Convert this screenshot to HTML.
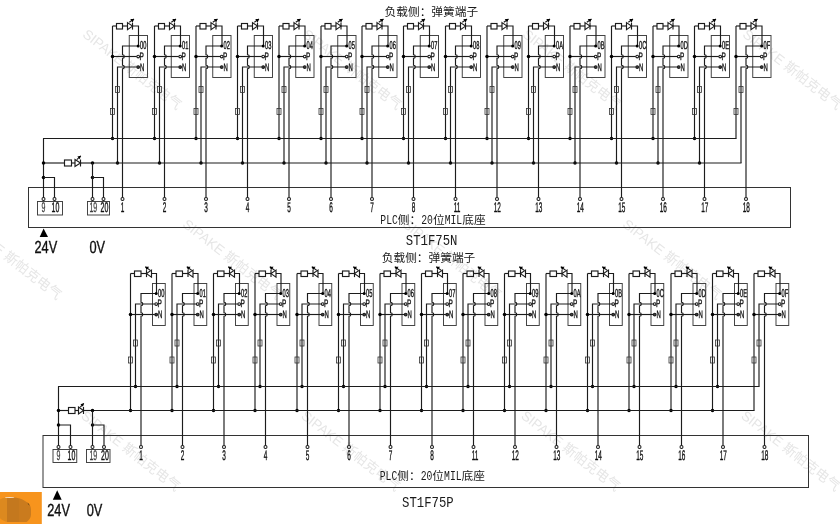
<!DOCTYPE html>
<html lang="zh-CN">
<head>
<meta charset="utf-8">
<title>ST1F75N / ST1F75P</title>
<style>
html,body{margin:0;padding:0;background:#fff;}
body{width:840px;height:524px;overflow:hidden;position:relative;font-family:"Liberation Sans","Noto Sans CJK SC",sans-serif;}
svg{position:absolute;left:0;top:0;display:block;filter:grayscale(1);}
.w{fill:none;stroke:#1c1c1c;stroke-width:1.15;stroke-linecap:butt;stroke-linejoin:miter;}
.o{fill:#fff;stroke:#1c1c1c;stroke-width:1.05;}
.n{fill:#444;}
.r{fill:none;stroke:#333;stroke-width:1;}
.b{fill:none;stroke:#3c3c3c;stroke-width:.95;}
.d{fill:#000;stroke:none;}
.z{fill:none;stroke:#333;stroke-width:.8;}
.s{stroke-width:.55;}
.f{fill:#000;stroke:none;}
.t{font-family:"Liberation Sans",sans-serif;fill:#111;stroke:#111;stroke-width:.4;text-rendering:geometricPrecision;}
.g{fill:#3c3c3c;stroke:#3c3c3c;stroke-width:.25;}
.c{font-family:"Liberation Mono","Noto Sans CJK SC",monospace;fill:#1a1a1a;}
.m{font-family:"Liberation Mono",monospace;}
.wm{font-family:"Liberation Sans","Noto Sans CJK SC",sans-serif;font-size:13.7px;fill:#e6e6e6;}
.badge{position:absolute;left:0;top:492px;filter:none;}
</style>
</head>
<body>
<svg width="840" height="524" viewBox="0 0 840 524">
<g>
<text class="wm" transform="translate(88 28) rotate(38)" x="0" y="10">SIPAKE 斯帕克电气</text>
<text class="wm" transform="translate(308 28) rotate(38)" x="0" y="10">SIPAKE 斯帕克电气</text>
<text class="wm" transform="translate(528 28) rotate(38)" x="0" y="10">SIPAKE 斯帕克电气</text>
<text class="wm" transform="translate(748 28) rotate(38)" x="0" y="10">SIPAKE 斯帕克电气</text>
<text class="wm" transform="translate(-32 218) rotate(38)" x="0" y="10">SIPAKE 斯帕克电气</text>
<text class="wm" transform="translate(188 218) rotate(38)" x="0" y="10">SIPAKE 斯帕克电气</text>
<text class="wm" transform="translate(408 218) rotate(38)" x="0" y="10">SIPAKE 斯帕克电气</text>
<text class="wm" transform="translate(628 218) rotate(38)" x="0" y="10">SIPAKE 斯帕克电气</text>
<text class="wm" transform="translate(86.5 409.5) rotate(38)" x="0" y="10">SIPAKE 斯帕克电气</text>
<text class="wm" transform="translate(306.5 409.5) rotate(38)" x="0" y="10">SIPAKE 斯帕克电气</text>
<text class="wm" transform="translate(526.5 409.5) rotate(38)" x="0" y="10">SIPAKE 斯帕克电气</text>
<text class="wm" transform="translate(746.5 409.5) rotate(38)" x="0" y="10">SIPAKE 斯帕克电气</text>
</g>
<g id="dN">
<rect class="r" x="28.5" y="187.5" width="762" height="40"/>
<rect class="b" x="129.25" y="35.5" width="18.25" height="42"/>
<path class="w" d="M112.5 26L116.5 26"/>
<rect class="w" x="116.5" y="23.5" width="6" height="5.5"/>
<path class="w" d="M122.5 26L127.5 26"/>
<path class="w" d="M127.5 22.6L132.5 26.1L127.5 29.6Z"/>
<path class="w" d="M132.5 22.6L132.5 29.6"/>
<path class="w" d="M129.3 22.3L134 19"/>
<path class="f" d="M134 19L132.67 22.5L130.26 19.06Z"/>
<path class="w" d="M132.5 26L138.5 26L138.5 46"/>
<path class="w" d="M138.5 46L122.5 46L122.5 54.7A1.8 1.8 0 0 1 122.5 58.3L122.5 65.2A1.8 1.8 0 0 1 122.5 68.8L122.5 197.6"/>
<path class="w" d="M112.5 26L112.5 138.5"/>
<path class="w" d="M112.5 56.5L136.9 56.5"/>
<circle class="d" cx="112.5" cy="56.5" r="1.75"/>
<path class="w" d="M136.9 67L117.5 67L117.5 163"/>
<circle class="d" cx="112.5" cy="138.5" r="1.75"/>
<circle class="d" cx="117.5" cy="163" r="1.75"/>
<rect class="z" x="115.5" y="86.5" width="4" height="6"/>
<rect class="z" x="110.5" y="108.5" width="4" height="6"/>
<circle class="d" cx="138.2" cy="46" r="1.5"/>
<circle class="o" cx="138.2" cy="56.5" r="1.35"/>
<circle class="o n" cx="138.2" cy="67" r="1.35"/>
<text class="t s" transform="translate(140 49) scale(0.5 1)" font-size="11.4" text-anchor="start">00</text>
<text class="t s" transform="translate(139.6 59.7) scale(0.6 1)" font-size="10.8" text-anchor="start">P</text>
<text class="t s" transform="translate(140 70.8) scale(0.55 1)" font-size="10.8" text-anchor="start">N</text>
<circle class="o" cx="122.5" cy="199" r="1.5"/>
<text class="t" transform="translate(122.5 212.1) scale(0.46 1)" font-size="14" text-anchor="middle">1</text>
<rect class="b" x="171.25" y="35.5" width="18.25" height="42"/>
<path class="w" d="M154.5 26L158.5 26"/>
<rect class="w" x="158.5" y="23.5" width="6" height="5.5"/>
<path class="w" d="M164.5 26L169.5 26"/>
<path class="w" d="M169.5 22.6L174.5 26.1L169.5 29.6Z"/>
<path class="w" d="M174.5 22.6L174.5 29.6"/>
<path class="w" d="M171.3 22.3L176 19"/>
<path class="f" d="M176 19L174.67 22.5L172.26 19.06Z"/>
<path class="w" d="M174.5 26L180.5 26L180.5 46"/>
<path class="w" d="M180.5 46L164.5 46L164.5 54.7A1.8 1.8 0 0 1 164.5 58.3L164.5 65.2A1.8 1.8 0 0 1 164.5 68.8L164.5 197.6"/>
<path class="w" d="M154.5 26L154.5 138.5"/>
<path class="w" d="M154.5 56.5L178.9 56.5"/>
<circle class="d" cx="154.5" cy="56.5" r="1.75"/>
<path class="w" d="M178.9 67L159.5 67L159.5 163"/>
<circle class="d" cx="154.5" cy="138.5" r="1.75"/>
<circle class="d" cx="159.5" cy="163" r="1.75"/>
<rect class="z" x="157.5" y="86.5" width="4" height="6"/>
<rect class="z" x="152.5" y="108.5" width="4" height="6"/>
<circle class="d" cx="180.2" cy="46" r="1.5"/>
<circle class="o" cx="180.2" cy="56.5" r="1.35"/>
<circle class="o n" cx="180.2" cy="67" r="1.35"/>
<text class="t s" transform="translate(182 49) scale(0.5 1)" font-size="11.4" text-anchor="start">01</text>
<text class="t s" transform="translate(181.6 59.7) scale(0.6 1)" font-size="10.8" text-anchor="start">P</text>
<text class="t s" transform="translate(182 70.8) scale(0.55 1)" font-size="10.8" text-anchor="start">N</text>
<circle class="o" cx="164.5" cy="199" r="1.5"/>
<text class="t" transform="translate(164.5 212.1) scale(0.46 1)" font-size="14" text-anchor="middle">2</text>
<rect class="b" x="212.75" y="35.5" width="18.25" height="42"/>
<path class="w" d="M196 26L200 26"/>
<rect class="w" x="200" y="23.5" width="6" height="5.5"/>
<path class="w" d="M206 26L211 26"/>
<path class="w" d="M211 22.6L216 26.1L211 29.6Z"/>
<path class="w" d="M216 22.6L216 29.6"/>
<path class="w" d="M212.8 22.3L217.5 19"/>
<path class="f" d="M217.5 19L216.17 22.5L213.76 19.06Z"/>
<path class="w" d="M216 26L222 26L222 46"/>
<path class="w" d="M222 46L206 46L206 54.7A1.8 1.8 0 0 1 206 58.3L206 65.2A1.8 1.8 0 0 1 206 68.8L206 197.6"/>
<path class="w" d="M196 26L196 138.5"/>
<path class="w" d="M196 56.5L220.4 56.5"/>
<circle class="d" cx="196" cy="56.5" r="1.75"/>
<path class="w" d="M220.4 67L201 67L201 163"/>
<circle class="d" cx="196" cy="138.5" r="1.75"/>
<circle class="d" cx="201" cy="163" r="1.75"/>
<rect class="z" x="199" y="86.5" width="4" height="6"/>
<rect class="z" x="194" y="108.5" width="4" height="6"/>
<circle class="d" cx="221.7" cy="46" r="1.5"/>
<circle class="o" cx="221.7" cy="56.5" r="1.35"/>
<circle class="o n" cx="221.7" cy="67" r="1.35"/>
<text class="t s" transform="translate(223.5 49) scale(0.5 1)" font-size="11.4" text-anchor="start">02</text>
<text class="t s" transform="translate(223.1 59.7) scale(0.6 1)" font-size="10.8" text-anchor="start">P</text>
<text class="t s" transform="translate(223.5 70.8) scale(0.55 1)" font-size="10.8" text-anchor="start">N</text>
<circle class="o" cx="206" cy="199" r="1.5"/>
<text class="t" transform="translate(206 212.1) scale(0.46 1)" font-size="14" text-anchor="middle">3</text>
<rect class="b" x="254.25" y="35.5" width="18.25" height="42"/>
<path class="w" d="M237.5 26L241.5 26"/>
<rect class="w" x="241.5" y="23.5" width="6" height="5.5"/>
<path class="w" d="M247.5 26L252.5 26"/>
<path class="w" d="M252.5 22.6L257.5 26.1L252.5 29.6Z"/>
<path class="w" d="M257.5 22.6L257.5 29.6"/>
<path class="w" d="M254.3 22.3L259 19"/>
<path class="f" d="M259 19L257.67 22.5L255.26 19.06Z"/>
<path class="w" d="M257.5 26L263.5 26L263.5 46"/>
<path class="w" d="M263.5 46L247.5 46L247.5 54.7A1.8 1.8 0 0 1 247.5 58.3L247.5 65.2A1.8 1.8 0 0 1 247.5 68.8L247.5 197.6"/>
<path class="w" d="M237.5 26L237.5 138.5"/>
<path class="w" d="M237.5 56.5L261.9 56.5"/>
<circle class="d" cx="237.5" cy="56.5" r="1.75"/>
<path class="w" d="M261.9 67L242.5 67L242.5 163"/>
<circle class="d" cx="237.5" cy="138.5" r="1.75"/>
<circle class="d" cx="242.5" cy="163" r="1.75"/>
<rect class="z" x="240.5" y="86.5" width="4" height="6"/>
<rect class="z" x="235.5" y="108.5" width="4" height="6"/>
<circle class="d" cx="263.2" cy="46" r="1.5"/>
<circle class="o" cx="263.2" cy="56.5" r="1.35"/>
<circle class="o n" cx="263.2" cy="67" r="1.35"/>
<text class="t s" transform="translate(265 49) scale(0.5 1)" font-size="11.4" text-anchor="start">03</text>
<text class="t s" transform="translate(264.6 59.7) scale(0.6 1)" font-size="10.8" text-anchor="start">P</text>
<text class="t s" transform="translate(265 70.8) scale(0.55 1)" font-size="10.8" text-anchor="start">N</text>
<circle class="o" cx="247.5" cy="199" r="1.5"/>
<text class="t" transform="translate(247.5 212.1) scale(0.46 1)" font-size="14" text-anchor="middle">4</text>
<rect class="b" x="295.75" y="35.5" width="18.25" height="42"/>
<path class="w" d="M279 26L283 26"/>
<rect class="w" x="283" y="23.5" width="6" height="5.5"/>
<path class="w" d="M289 26L294 26"/>
<path class="w" d="M294 22.6L299 26.1L294 29.6Z"/>
<path class="w" d="M299 22.6L299 29.6"/>
<path class="w" d="M295.8 22.3L300.5 19"/>
<path class="f" d="M300.5 19L299.17 22.5L296.76 19.06Z"/>
<path class="w" d="M299 26L305 26L305 46"/>
<path class="w" d="M305 46L289 46L289 54.7A1.8 1.8 0 0 1 289 58.3L289 65.2A1.8 1.8 0 0 1 289 68.8L289 197.6"/>
<path class="w" d="M279 26L279 138.5"/>
<path class="w" d="M279 56.5L303.4 56.5"/>
<circle class="d" cx="279" cy="56.5" r="1.75"/>
<path class="w" d="M303.4 67L284 67L284 163"/>
<circle class="d" cx="279" cy="138.5" r="1.75"/>
<circle class="d" cx="284" cy="163" r="1.75"/>
<rect class="z" x="282" y="86.5" width="4" height="6"/>
<rect class="z" x="277" y="108.5" width="4" height="6"/>
<circle class="d" cx="304.7" cy="46" r="1.5"/>
<circle class="o" cx="304.7" cy="56.5" r="1.35"/>
<circle class="o n" cx="304.7" cy="67" r="1.35"/>
<text class="t s" transform="translate(306.5 49) scale(0.5 1)" font-size="11.4" text-anchor="start">04</text>
<text class="t s" transform="translate(306.1 59.7) scale(0.6 1)" font-size="10.8" text-anchor="start">P</text>
<text class="t s" transform="translate(306.5 70.8) scale(0.55 1)" font-size="10.8" text-anchor="start">N</text>
<circle class="o" cx="289" cy="199" r="1.5"/>
<text class="t" transform="translate(289 212.1) scale(0.46 1)" font-size="14" text-anchor="middle">5</text>
<rect class="b" x="337.75" y="35.5" width="18.25" height="42"/>
<path class="w" d="M321 26L325 26"/>
<rect class="w" x="325" y="23.5" width="6" height="5.5"/>
<path class="w" d="M331 26L336 26"/>
<path class="w" d="M336 22.6L341 26.1L336 29.6Z"/>
<path class="w" d="M341 22.6L341 29.6"/>
<path class="w" d="M337.8 22.3L342.5 19"/>
<path class="f" d="M342.5 19L341.17 22.5L338.76 19.06Z"/>
<path class="w" d="M341 26L347 26L347 46"/>
<path class="w" d="M347 46L331 46L331 54.7A1.8 1.8 0 0 1 331 58.3L331 65.2A1.8 1.8 0 0 1 331 68.8L331 197.6"/>
<path class="w" d="M321 26L321 138.5"/>
<path class="w" d="M321 56.5L345.4 56.5"/>
<circle class="d" cx="321" cy="56.5" r="1.75"/>
<path class="w" d="M345.4 67L326 67L326 163"/>
<circle class="d" cx="321" cy="138.5" r="1.75"/>
<circle class="d" cx="326" cy="163" r="1.75"/>
<rect class="z" x="324" y="86.5" width="4" height="6"/>
<rect class="z" x="319" y="108.5" width="4" height="6"/>
<circle class="d" cx="346.7" cy="46" r="1.5"/>
<circle class="o" cx="346.7" cy="56.5" r="1.35"/>
<circle class="o n" cx="346.7" cy="67" r="1.35"/>
<text class="t s" transform="translate(348.5 49) scale(0.5 1)" font-size="11.4" text-anchor="start">05</text>
<text class="t s" transform="translate(348.1 59.7) scale(0.6 1)" font-size="10.8" text-anchor="start">P</text>
<text class="t s" transform="translate(348.5 70.8) scale(0.55 1)" font-size="10.8" text-anchor="start">N</text>
<circle class="o" cx="331" cy="199" r="1.5"/>
<text class="t" transform="translate(331 212.1) scale(0.46 1)" font-size="14" text-anchor="middle">6</text>
<rect class="b" x="378.75" y="35.5" width="18.25" height="42"/>
<path class="w" d="M362 26L366 26"/>
<rect class="w" x="366" y="23.5" width="6" height="5.5"/>
<path class="w" d="M372 26L377 26"/>
<path class="w" d="M377 22.6L382 26.1L377 29.6Z"/>
<path class="w" d="M382 22.6L382 29.6"/>
<path class="w" d="M378.8 22.3L383.5 19"/>
<path class="f" d="M383.5 19L382.17 22.5L379.76 19.06Z"/>
<path class="w" d="M382 26L388 26L388 46"/>
<path class="w" d="M388 46L372 46L372 54.7A1.8 1.8 0 0 1 372 58.3L372 65.2A1.8 1.8 0 0 1 372 68.8L372 197.6"/>
<path class="w" d="M362 26L362 138.5"/>
<path class="w" d="M362 56.5L386.4 56.5"/>
<circle class="d" cx="362" cy="56.5" r="1.75"/>
<path class="w" d="M386.4 67L367 67L367 163"/>
<circle class="d" cx="362" cy="138.5" r="1.75"/>
<circle class="d" cx="367" cy="163" r="1.75"/>
<rect class="z" x="365" y="86.5" width="4" height="6"/>
<rect class="z" x="360" y="108.5" width="4" height="6"/>
<circle class="d" cx="387.7" cy="46" r="1.5"/>
<circle class="o" cx="387.7" cy="56.5" r="1.35"/>
<circle class="o n" cx="387.7" cy="67" r="1.35"/>
<text class="t s" transform="translate(389.5 49) scale(0.5 1)" font-size="11.4" text-anchor="start">06</text>
<text class="t s" transform="translate(389.1 59.7) scale(0.6 1)" font-size="10.8" text-anchor="start">P</text>
<text class="t s" transform="translate(389.5 70.8) scale(0.55 1)" font-size="10.8" text-anchor="start">N</text>
<circle class="o" cx="372" cy="199" r="1.5"/>
<text class="t" transform="translate(372 212.1) scale(0.46 1)" font-size="14" text-anchor="middle">7</text>
<rect class="b" x="420.25" y="35.5" width="18.25" height="42"/>
<path class="w" d="M403.5 26L407.5 26"/>
<rect class="w" x="407.5" y="23.5" width="6" height="5.5"/>
<path class="w" d="M413.5 26L418.5 26"/>
<path class="w" d="M418.5 22.6L423.5 26.1L418.5 29.6Z"/>
<path class="w" d="M423.5 22.6L423.5 29.6"/>
<path class="w" d="M420.3 22.3L425 19"/>
<path class="f" d="M425 19L423.67 22.5L421.26 19.06Z"/>
<path class="w" d="M423.5 26L429.5 26L429.5 46"/>
<path class="w" d="M429.5 46L413.5 46L413.5 54.7A1.8 1.8 0 0 1 413.5 58.3L413.5 65.2A1.8 1.8 0 0 1 413.5 68.8L413.5 197.6"/>
<path class="w" d="M403.5 26L403.5 138.5"/>
<path class="w" d="M403.5 56.5L427.9 56.5"/>
<circle class="d" cx="403.5" cy="56.5" r="1.75"/>
<path class="w" d="M427.9 67L408.5 67L408.5 163"/>
<circle class="d" cx="403.5" cy="138.5" r="1.75"/>
<circle class="d" cx="408.5" cy="163" r="1.75"/>
<rect class="z" x="406.5" y="86.5" width="4" height="6"/>
<rect class="z" x="401.5" y="108.5" width="4" height="6"/>
<circle class="d" cx="429.2" cy="46" r="1.5"/>
<circle class="o" cx="429.2" cy="56.5" r="1.35"/>
<circle class="o n" cx="429.2" cy="67" r="1.35"/>
<text class="t s" transform="translate(431 49) scale(0.5 1)" font-size="11.4" text-anchor="start">07</text>
<text class="t s" transform="translate(430.6 59.7) scale(0.6 1)" font-size="10.8" text-anchor="start">P</text>
<text class="t s" transform="translate(431 70.8) scale(0.55 1)" font-size="10.8" text-anchor="start">N</text>
<circle class="o" cx="413.5" cy="199" r="1.5"/>
<text class="t" transform="translate(413.5 212.1) scale(0.46 1)" font-size="14" text-anchor="middle">8</text>
<rect class="b" x="462.25" y="35.5" width="18.25" height="42"/>
<path class="w" d="M445.5 26L449.5 26"/>
<rect class="w" x="449.5" y="23.5" width="6" height="5.5"/>
<path class="w" d="M455.5 26L460.5 26"/>
<path class="w" d="M460.5 22.6L465.5 26.1L460.5 29.6Z"/>
<path class="w" d="M465.5 22.6L465.5 29.6"/>
<path class="w" d="M462.3 22.3L467 19"/>
<path class="f" d="M467 19L465.67 22.5L463.26 19.06Z"/>
<path class="w" d="M465.5 26L471.5 26L471.5 46"/>
<path class="w" d="M471.5 46L455.5 46L455.5 54.7A1.8 1.8 0 0 1 455.5 58.3L455.5 65.2A1.8 1.8 0 0 1 455.5 68.8L455.5 197.6"/>
<path class="w" d="M445.5 26L445.5 138.5"/>
<path class="w" d="M445.5 56.5L469.9 56.5"/>
<circle class="d" cx="445.5" cy="56.5" r="1.75"/>
<path class="w" d="M469.9 67L450.5 67L450.5 163"/>
<circle class="d" cx="445.5" cy="138.5" r="1.75"/>
<circle class="d" cx="450.5" cy="163" r="1.75"/>
<rect class="z" x="448.5" y="86.5" width="4" height="6"/>
<rect class="z" x="443.5" y="108.5" width="4" height="6"/>
<circle class="d" cx="471.2" cy="46" r="1.5"/>
<circle class="o" cx="471.2" cy="56.5" r="1.35"/>
<circle class="o n" cx="471.2" cy="67" r="1.35"/>
<text class="t s" transform="translate(473 49) scale(0.5 1)" font-size="11.4" text-anchor="start">08</text>
<text class="t s" transform="translate(472.6 59.7) scale(0.6 1)" font-size="10.8" text-anchor="start">P</text>
<text class="t s" transform="translate(473 70.8) scale(0.55 1)" font-size="10.8" text-anchor="start">N</text>
<circle class="o" cx="455.5" cy="199" r="1.5"/>
<text class="t" transform="translate(457.1 212.1) scale(0.46 1)" font-size="14" text-anchor="middle">11</text>
<rect class="b" x="503.75" y="35.5" width="18.25" height="42"/>
<path class="w" d="M487 26L491 26"/>
<rect class="w" x="491" y="23.5" width="6" height="5.5"/>
<path class="w" d="M497 26L502 26"/>
<path class="w" d="M502 22.6L507 26.1L502 29.6Z"/>
<path class="w" d="M507 22.6L507 29.6"/>
<path class="w" d="M503.8 22.3L508.5 19"/>
<path class="f" d="M508.5 19L507.17 22.5L504.76 19.06Z"/>
<path class="w" d="M507 26L513 26L513 46"/>
<path class="w" d="M513 46L497 46L497 54.7A1.8 1.8 0 0 1 497 58.3L497 65.2A1.8 1.8 0 0 1 497 68.8L497 197.6"/>
<path class="w" d="M487 26L487 138.5"/>
<path class="w" d="M487 56.5L511.4 56.5"/>
<circle class="d" cx="487" cy="56.5" r="1.75"/>
<path class="w" d="M511.4 67L492 67L492 163"/>
<circle class="d" cx="487" cy="138.5" r="1.75"/>
<circle class="d" cx="492" cy="163" r="1.75"/>
<rect class="z" x="490" y="86.5" width="4" height="6"/>
<rect class="z" x="485" y="108.5" width="4" height="6"/>
<circle class="d" cx="512.7" cy="46" r="1.5"/>
<circle class="o" cx="512.7" cy="56.5" r="1.35"/>
<circle class="o n" cx="512.7" cy="67" r="1.35"/>
<text class="t s" transform="translate(514.5 49) scale(0.5 1)" font-size="11.4" text-anchor="start">09</text>
<text class="t s" transform="translate(514.1 59.7) scale(0.6 1)" font-size="10.8" text-anchor="start">P</text>
<text class="t s" transform="translate(514.5 70.8) scale(0.55 1)" font-size="10.8" text-anchor="start">N</text>
<circle class="o" cx="497" cy="199" r="1.5"/>
<text class="t" transform="translate(497.3 212.1) scale(0.46 1)" font-size="14" text-anchor="middle">12</text>
<rect class="b" x="545.25" y="35.5" width="18.25" height="42"/>
<path class="w" d="M528.5 26L532.5 26"/>
<rect class="w" x="532.5" y="23.5" width="6" height="5.5"/>
<path class="w" d="M538.5 26L543.5 26"/>
<path class="w" d="M543.5 22.6L548.5 26.1L543.5 29.6Z"/>
<path class="w" d="M548.5 22.6L548.5 29.6"/>
<path class="w" d="M545.3 22.3L550 19"/>
<path class="f" d="M550 19L548.67 22.5L546.26 19.06Z"/>
<path class="w" d="M548.5 26L554.5 26L554.5 46"/>
<path class="w" d="M554.5 46L538.5 46L538.5 54.7A1.8 1.8 0 0 1 538.5 58.3L538.5 65.2A1.8 1.8 0 0 1 538.5 68.8L538.5 197.6"/>
<path class="w" d="M528.5 26L528.5 138.5"/>
<path class="w" d="M528.5 56.5L552.9 56.5"/>
<circle class="d" cx="528.5" cy="56.5" r="1.75"/>
<path class="w" d="M552.9 67L533.5 67L533.5 163"/>
<circle class="d" cx="528.5" cy="138.5" r="1.75"/>
<circle class="d" cx="533.5" cy="163" r="1.75"/>
<rect class="z" x="531.5" y="86.5" width="4" height="6"/>
<rect class="z" x="526.5" y="108.5" width="4" height="6"/>
<circle class="d" cx="554.2" cy="46" r="1.5"/>
<circle class="o" cx="554.2" cy="56.5" r="1.35"/>
<circle class="o n" cx="554.2" cy="67" r="1.35"/>
<text class="t s" transform="translate(556 49) scale(0.5 1)" font-size="11.4" text-anchor="start">0A</text>
<text class="t s" transform="translate(555.6 59.7) scale(0.6 1)" font-size="10.8" text-anchor="start">P</text>
<text class="t s" transform="translate(556 70.8) scale(0.55 1)" font-size="10.8" text-anchor="start">N</text>
<circle class="o" cx="538.5" cy="199" r="1.5"/>
<text class="t" transform="translate(538.8 212.1) scale(0.46 1)" font-size="14" text-anchor="middle">13</text>
<rect class="b" x="586.75" y="35.5" width="18.25" height="42"/>
<path class="w" d="M570 26L574 26"/>
<rect class="w" x="574" y="23.5" width="6" height="5.5"/>
<path class="w" d="M580 26L585 26"/>
<path class="w" d="M585 22.6L590 26.1L585 29.6Z"/>
<path class="w" d="M590 22.6L590 29.6"/>
<path class="w" d="M586.8 22.3L591.5 19"/>
<path class="f" d="M591.5 19L590.17 22.5L587.76 19.06Z"/>
<path class="w" d="M590 26L596 26L596 46"/>
<path class="w" d="M596 46L580 46L580 54.7A1.8 1.8 0 0 1 580 58.3L580 65.2A1.8 1.8 0 0 1 580 68.8L580 197.6"/>
<path class="w" d="M570 26L570 138.5"/>
<path class="w" d="M570 56.5L594.4 56.5"/>
<circle class="d" cx="570" cy="56.5" r="1.75"/>
<path class="w" d="M594.4 67L575 67L575 163"/>
<circle class="d" cx="570" cy="138.5" r="1.75"/>
<circle class="d" cx="575" cy="163" r="1.75"/>
<rect class="z" x="573" y="86.5" width="4" height="6"/>
<rect class="z" x="568" y="108.5" width="4" height="6"/>
<circle class="d" cx="595.7" cy="46" r="1.5"/>
<circle class="o" cx="595.7" cy="56.5" r="1.35"/>
<circle class="o n" cx="595.7" cy="67" r="1.35"/>
<text class="t s" transform="translate(597.5 49) scale(0.5 1)" font-size="11.4" text-anchor="start">0B</text>
<text class="t s" transform="translate(597.1 59.7) scale(0.6 1)" font-size="10.8" text-anchor="start">P</text>
<text class="t s" transform="translate(597.5 70.8) scale(0.55 1)" font-size="10.8" text-anchor="start">N</text>
<circle class="o" cx="580" cy="199" r="1.5"/>
<text class="t" transform="translate(580.3 212.1) scale(0.46 1)" font-size="14" text-anchor="middle">14</text>
<rect class="b" x="628.25" y="35.5" width="18.25" height="42"/>
<path class="w" d="M611.5 26L615.5 26"/>
<rect class="w" x="615.5" y="23.5" width="6" height="5.5"/>
<path class="w" d="M621.5 26L626.5 26"/>
<path class="w" d="M626.5 22.6L631.5 26.1L626.5 29.6Z"/>
<path class="w" d="M631.5 22.6L631.5 29.6"/>
<path class="w" d="M628.3 22.3L633 19"/>
<path class="f" d="M633 19L631.67 22.5L629.26 19.06Z"/>
<path class="w" d="M631.5 26L637.5 26L637.5 46"/>
<path class="w" d="M637.5 46L621.5 46L621.5 54.7A1.8 1.8 0 0 1 621.5 58.3L621.5 65.2A1.8 1.8 0 0 1 621.5 68.8L621.5 197.6"/>
<path class="w" d="M611.5 26L611.5 138.5"/>
<path class="w" d="M611.5 56.5L635.9 56.5"/>
<circle class="d" cx="611.5" cy="56.5" r="1.75"/>
<path class="w" d="M635.9 67L616.5 67L616.5 163"/>
<circle class="d" cx="611.5" cy="138.5" r="1.75"/>
<circle class="d" cx="616.5" cy="163" r="1.75"/>
<rect class="z" x="614.5" y="86.5" width="4" height="6"/>
<rect class="z" x="609.5" y="108.5" width="4" height="6"/>
<circle class="d" cx="637.2" cy="46" r="1.5"/>
<circle class="o" cx="637.2" cy="56.5" r="1.35"/>
<circle class="o n" cx="637.2" cy="67" r="1.35"/>
<text class="t s" transform="translate(639 49) scale(0.5 1)" font-size="11.4" text-anchor="start">0C</text>
<text class="t s" transform="translate(638.6 59.7) scale(0.6 1)" font-size="10.8" text-anchor="start">P</text>
<text class="t s" transform="translate(639 70.8) scale(0.55 1)" font-size="10.8" text-anchor="start">N</text>
<circle class="o" cx="621.5" cy="199" r="1.5"/>
<text class="t" transform="translate(621.8 212.1) scale(0.46 1)" font-size="14" text-anchor="middle">15</text>
<rect class="b" x="669.75" y="35.5" width="18.25" height="42"/>
<path class="w" d="M653 26L657 26"/>
<rect class="w" x="657" y="23.5" width="6" height="5.5"/>
<path class="w" d="M663 26L668 26"/>
<path class="w" d="M668 22.6L673 26.1L668 29.6Z"/>
<path class="w" d="M673 22.6L673 29.6"/>
<path class="w" d="M669.8 22.3L674.5 19"/>
<path class="f" d="M674.5 19L673.17 22.5L670.76 19.06Z"/>
<path class="w" d="M673 26L679 26L679 46"/>
<path class="w" d="M679 46L663 46L663 54.7A1.8 1.8 0 0 1 663 58.3L663 65.2A1.8 1.8 0 0 1 663 68.8L663 197.6"/>
<path class="w" d="M653 26L653 138.5"/>
<path class="w" d="M653 56.5L677.4 56.5"/>
<circle class="d" cx="653" cy="56.5" r="1.75"/>
<path class="w" d="M677.4 67L658 67L658 163"/>
<circle class="d" cx="653" cy="138.5" r="1.75"/>
<circle class="d" cx="658" cy="163" r="1.75"/>
<rect class="z" x="656" y="86.5" width="4" height="6"/>
<rect class="z" x="651" y="108.5" width="4" height="6"/>
<circle class="d" cx="678.7" cy="46" r="1.5"/>
<circle class="o" cx="678.7" cy="56.5" r="1.35"/>
<circle class="o n" cx="678.7" cy="67" r="1.35"/>
<text class="t s" transform="translate(680.5 49) scale(0.5 1)" font-size="11.4" text-anchor="start">0D</text>
<text class="t s" transform="translate(680.1 59.7) scale(0.6 1)" font-size="10.8" text-anchor="start">P</text>
<text class="t s" transform="translate(680.5 70.8) scale(0.55 1)" font-size="10.8" text-anchor="start">N</text>
<circle class="o" cx="663" cy="199" r="1.5"/>
<text class="t" transform="translate(663.3 212.1) scale(0.46 1)" font-size="14" text-anchor="middle">16</text>
<rect class="b" x="711.25" y="35.5" width="18.25" height="42"/>
<path class="w" d="M694.5 26L698.5 26"/>
<rect class="w" x="698.5" y="23.5" width="6" height="5.5"/>
<path class="w" d="M704.5 26L709.5 26"/>
<path class="w" d="M709.5 22.6L714.5 26.1L709.5 29.6Z"/>
<path class="w" d="M714.5 22.6L714.5 29.6"/>
<path class="w" d="M711.3 22.3L716 19"/>
<path class="f" d="M716 19L714.67 22.5L712.26 19.06Z"/>
<path class="w" d="M714.5 26L720.5 26L720.5 46"/>
<path class="w" d="M720.5 46L704.5 46L704.5 54.7A1.8 1.8 0 0 1 704.5 58.3L704.5 65.2A1.8 1.8 0 0 1 704.5 68.8L704.5 197.6"/>
<path class="w" d="M694.5 26L694.5 138.5"/>
<path class="w" d="M694.5 56.5L718.9 56.5"/>
<circle class="d" cx="694.5" cy="56.5" r="1.75"/>
<path class="w" d="M718.9 67L699.5 67L699.5 163"/>
<circle class="d" cx="694.5" cy="138.5" r="1.75"/>
<circle class="d" cx="699.5" cy="163" r="1.75"/>
<rect class="z" x="697.5" y="86.5" width="4" height="6"/>
<rect class="z" x="692.5" y="108.5" width="4" height="6"/>
<circle class="d" cx="720.2" cy="46" r="1.5"/>
<circle class="o" cx="720.2" cy="56.5" r="1.35"/>
<circle class="o n" cx="720.2" cy="67" r="1.35"/>
<text class="t s" transform="translate(722 49) scale(0.5 1)" font-size="11.4" text-anchor="start">0E</text>
<text class="t s" transform="translate(721.6 59.7) scale(0.6 1)" font-size="10.8" text-anchor="start">P</text>
<text class="t s" transform="translate(722 70.8) scale(0.55 1)" font-size="10.8" text-anchor="start">N</text>
<circle class="o" cx="704.5" cy="199" r="1.5"/>
<text class="t" transform="translate(704.8 212.1) scale(0.46 1)" font-size="14" text-anchor="middle">17</text>
<rect class="b" x="752.75" y="35.5" width="18.25" height="42"/>
<path class="w" d="M736 26L740 26"/>
<rect class="w" x="740" y="23.5" width="6" height="5.5"/>
<path class="w" d="M746 26L751 26"/>
<path class="w" d="M751 22.6L756 26.1L751 29.6Z"/>
<path class="w" d="M756 22.6L756 29.6"/>
<path class="w" d="M752.8 22.3L757.5 19"/>
<path class="f" d="M757.5 19L756.17 22.5L753.76 19.06Z"/>
<path class="w" d="M756 26L762 26L762 46"/>
<path class="w" d="M762 46L746 46L746 54.7A1.8 1.8 0 0 1 746 58.3L746 65.2A1.8 1.8 0 0 1 746 68.8L746 197.6"/>
<path class="w" d="M736 26L736 138.5"/>
<path class="w" d="M736 56.5L760.4 56.5"/>
<circle class="d" cx="736" cy="56.5" r="1.75"/>
<path class="w" d="M760.4 67L741 67L741 163"/>
<rect class="z" x="739" y="86.5" width="4" height="6"/>
<rect class="z" x="734" y="108.5" width="4" height="6"/>
<circle class="d" cx="761.7" cy="46" r="1.5"/>
<circle class="o" cx="761.7" cy="56.5" r="1.35"/>
<circle class="o n" cx="761.7" cy="67" r="1.35"/>
<text class="t s" transform="translate(763.5 49) scale(0.5 1)" font-size="11.4" text-anchor="start">0F</text>
<text class="t s" transform="translate(763.1 59.7) scale(0.6 1)" font-size="10.8" text-anchor="start">P</text>
<text class="t s" transform="translate(763.5 70.8) scale(0.55 1)" font-size="10.8" text-anchor="start">N</text>
<circle class="o" cx="746" cy="199" r="1.5"/>
<text class="t" transform="translate(746.3 212.1) scale(0.46 1)" font-size="14" text-anchor="middle">18</text>
<path class="w" d="M43 138.5L736.5 138.5"/>
<path class="w" d="M92.5 163L741.5 163"/>
<path class="w" d="M43.5 138.5L43.5 197.6"/>
<path class="w" d="M43.5 163L64.5 163"/>
<rect class="w" x="64.5" y="160" width="7" height="6"/>
<path class="w" d="M71.5 163L75 163"/>
<path class="w" d="M75 159.5L80.5 163L75 166.5Z"/>
<path class="w" d="M80.5 159.5L80.5 166.5"/>
<path class="w" d="M76.8 159.6L80.8 155.8"/>
<path class="f" d="M80.8 155.8L79.86 159.17L77.39 156.56Z"/>
<path class="w" d="M80.5 163L92.5 163"/>
<circle class="d" cx="43.5" cy="163" r="1.75"/>
<circle class="d" cx="92.5" cy="163" r="1.75"/>
<circle class="d" cx="43.5" cy="177.5" r="1.75"/>
<circle class="d" cx="92.5" cy="177.5" r="1.75"/>
<path class="w" d="M43.5 177.5L54.5 177.5L54.5 197.6"/>
<path class="w" d="M92.5 163L92.5 197.6"/>
<path class="w" d="M92.5 177.5L103.5 177.5L103.5 197.6"/>
<circle class="o" cx="43.5" cy="199" r="1.5"/>
<circle class="o" cx="54.5" cy="199" r="1.5"/>
<circle class="o" cx="92.5" cy="199" r="1.5"/>
<circle class="o" cx="103.5" cy="199" r="1.5"/>
<rect class="b" x="37.5" y="201.5" width="25" height="13.5"/>
<rect class="b" x="87.5" y="201.5" width="22" height="13.5"/>
<text class="t g" transform="translate(43.5 212.1) scale(0.5 1)" font-size="14" text-anchor="middle">9</text>
<text class="t" transform="translate(55.5 212.1) scale(0.5 1)" font-size="14" text-anchor="middle">10</text>
<text class="t g" transform="translate(93.3 212.1) scale(0.5 1)" font-size="14" text-anchor="middle">19</text>
<text class="t" transform="translate(104.4 212.1) scale(0.5 1)" font-size="14" text-anchor="middle">20</text>
</g>
<g id="dP">
<rect class="r" x="43" y="435.5" width="765.5" height="52"/>
<rect class="b" x="152.5" y="283.5" width="12.75" height="42"/>
<path class="w" d="M130.5 273.5L134.5 273.5"/>
<rect class="w" x="134.5" y="271" width="6.5" height="5.5"/>
<path class="w" d="M141 273.5L146.5 273.5"/>
<path class="w" d="M151.5 270.1L146.5 273.6L151.5 277.1Z"/>
<path class="w" d="M146.5 270.1L146.5 277.1"/>
<path class="w" d="M150.3 270.4L145.3 266.7"/>
<path class="f" d="M145.3 266.7L149.04 266.86L146.54 270.23Z"/>
<path class="w" d="M151.5 273.5L156.5 273.5L156.5 293.5"/>
<path class="w" d="M156.5 293.5L141 293.5L141 302.2A1.8 1.8 0 0 1 141 305.8L141 312.7A1.8 1.8 0 0 1 141 316.3L141 445.6"/>
<path class="w" d="M130.5 273.5L130.5 410.5"/>
<path class="w" d="M154.9 304L135.5 304L135.5 386.5"/>
<path class="w" d="M130.5 314.5L154.9 314.5"/>
<circle class="d" cx="130.5" cy="314.5" r="1.75"/>
<circle class="d" cx="135.5" cy="386.5" r="1.75"/>
<circle class="d" cx="130.5" cy="410.5" r="1.75"/>
<rect class="z" x="133.5" y="340" width="4" height="6"/>
<rect class="z" x="128.5" y="357" width="4" height="6"/>
<circle class="d" cx="156.2" cy="293.5" r="1.5"/>
<circle class="o" cx="156.2" cy="304" r="1.35"/>
<circle class="o n" cx="156.2" cy="314.5" r="1.35"/>
<text class="t s" transform="translate(158 296.5) scale(0.5 1)" font-size="11.4" text-anchor="start">00</text>
<text class="t s" transform="translate(157.6 307.2) scale(0.6 1)" font-size="10.8" text-anchor="start">P</text>
<text class="t s" transform="translate(158 318.3) scale(0.55 1)" font-size="10.8" text-anchor="start">N</text>
<circle class="o" cx="141" cy="447" r="1.5"/>
<text class="t" transform="translate(141 459.7) scale(0.46 1)" font-size="14" text-anchor="middle">1</text>
<rect class="b" x="194" y="283.5" width="12.75" height="42"/>
<path class="w" d="M172 273.5L176 273.5"/>
<rect class="w" x="176" y="271" width="6.5" height="5.5"/>
<path class="w" d="M182.5 273.5L188 273.5"/>
<path class="w" d="M193 270.1L188 273.6L193 277.1Z"/>
<path class="w" d="M188 270.1L188 277.1"/>
<path class="w" d="M191.8 270.4L186.8 266.7"/>
<path class="f" d="M186.8 266.7L190.54 266.86L188.04 270.23Z"/>
<path class="w" d="M193 273.5L198 273.5L198 293.5"/>
<path class="w" d="M198 293.5L182.5 293.5L182.5 302.2A1.8 1.8 0 0 1 182.5 305.8L182.5 312.7A1.8 1.8 0 0 1 182.5 316.3L182.5 445.6"/>
<path class="w" d="M172 273.5L172 410.5"/>
<path class="w" d="M196.4 304L177 304L177 386.5"/>
<path class="w" d="M172 314.5L196.4 314.5"/>
<circle class="d" cx="172" cy="314.5" r="1.75"/>
<circle class="d" cx="177" cy="386.5" r="1.75"/>
<circle class="d" cx="172" cy="410.5" r="1.75"/>
<rect class="z" x="175" y="340" width="4" height="6"/>
<rect class="z" x="170" y="357" width="4" height="6"/>
<circle class="d" cx="197.7" cy="293.5" r="1.5"/>
<circle class="o" cx="197.7" cy="304" r="1.35"/>
<circle class="o n" cx="197.7" cy="314.5" r="1.35"/>
<text class="t s" transform="translate(199.5 296.5) scale(0.5 1)" font-size="11.4" text-anchor="start">01</text>
<text class="t s" transform="translate(199.1 307.2) scale(0.6 1)" font-size="10.8" text-anchor="start">P</text>
<text class="t s" transform="translate(199.5 318.3) scale(0.55 1)" font-size="10.8" text-anchor="start">N</text>
<circle class="o" cx="182.5" cy="447" r="1.5"/>
<text class="t" transform="translate(182.5 459.7) scale(0.46 1)" font-size="14" text-anchor="middle">2</text>
<rect class="b" x="235.5" y="283.5" width="12.75" height="42"/>
<path class="w" d="M213.5 273.5L217.5 273.5"/>
<rect class="w" x="217.5" y="271" width="6.5" height="5.5"/>
<path class="w" d="M224 273.5L229.5 273.5"/>
<path class="w" d="M234.5 270.1L229.5 273.6L234.5 277.1Z"/>
<path class="w" d="M229.5 270.1L229.5 277.1"/>
<path class="w" d="M233.3 270.4L228.3 266.7"/>
<path class="f" d="M228.3 266.7L232.04 266.86L229.54 270.23Z"/>
<path class="w" d="M234.5 273.5L239.5 273.5L239.5 293.5"/>
<path class="w" d="M239.5 293.5L224 293.5L224 302.2A1.8 1.8 0 0 1 224 305.8L224 312.7A1.8 1.8 0 0 1 224 316.3L224 445.6"/>
<path class="w" d="M213.5 273.5L213.5 410.5"/>
<path class="w" d="M237.9 304L218.5 304L218.5 386.5"/>
<path class="w" d="M213.5 314.5L237.9 314.5"/>
<circle class="d" cx="213.5" cy="314.5" r="1.75"/>
<circle class="d" cx="218.5" cy="386.5" r="1.75"/>
<circle class="d" cx="213.5" cy="410.5" r="1.75"/>
<rect class="z" x="216.5" y="340" width="4" height="6"/>
<rect class="z" x="211.5" y="357" width="4" height="6"/>
<circle class="d" cx="239.2" cy="293.5" r="1.5"/>
<circle class="o" cx="239.2" cy="304" r="1.35"/>
<circle class="o n" cx="239.2" cy="314.5" r="1.35"/>
<text class="t s" transform="translate(241 296.5) scale(0.5 1)" font-size="11.4" text-anchor="start">02</text>
<text class="t s" transform="translate(240.6 307.2) scale(0.6 1)" font-size="10.8" text-anchor="start">P</text>
<text class="t s" transform="translate(241 318.3) scale(0.55 1)" font-size="10.8" text-anchor="start">N</text>
<circle class="o" cx="224" cy="447" r="1.5"/>
<text class="t" transform="translate(224 459.7) scale(0.46 1)" font-size="14" text-anchor="middle">3</text>
<rect class="b" x="277" y="283.5" width="12.75" height="42"/>
<path class="w" d="M255 273.5L259 273.5"/>
<rect class="w" x="259" y="271" width="6.5" height="5.5"/>
<path class="w" d="M265.5 273.5L271 273.5"/>
<path class="w" d="M276 270.1L271 273.6L276 277.1Z"/>
<path class="w" d="M271 270.1L271 277.1"/>
<path class="w" d="M274.8 270.4L269.8 266.7"/>
<path class="f" d="M269.8 266.7L273.54 266.86L271.04 270.23Z"/>
<path class="w" d="M276 273.5L281 273.5L281 293.5"/>
<path class="w" d="M281 293.5L265.5 293.5L265.5 302.2A1.8 1.8 0 0 1 265.5 305.8L265.5 312.7A1.8 1.8 0 0 1 265.5 316.3L265.5 445.6"/>
<path class="w" d="M255 273.5L255 410.5"/>
<path class="w" d="M279.4 304L260 304L260 386.5"/>
<path class="w" d="M255 314.5L279.4 314.5"/>
<circle class="d" cx="255" cy="314.5" r="1.75"/>
<circle class="d" cx="260" cy="386.5" r="1.75"/>
<circle class="d" cx="255" cy="410.5" r="1.75"/>
<rect class="z" x="258" y="340" width="4" height="6"/>
<rect class="z" x="253" y="357" width="4" height="6"/>
<circle class="d" cx="280.7" cy="293.5" r="1.5"/>
<circle class="o" cx="280.7" cy="304" r="1.35"/>
<circle class="o n" cx="280.7" cy="314.5" r="1.35"/>
<text class="t s" transform="translate(282.5 296.5) scale(0.5 1)" font-size="11.4" text-anchor="start">03</text>
<text class="t s" transform="translate(282.1 307.2) scale(0.6 1)" font-size="10.8" text-anchor="start">P</text>
<text class="t s" transform="translate(282.5 318.3) scale(0.55 1)" font-size="10.8" text-anchor="start">N</text>
<circle class="o" cx="265.5" cy="447" r="1.5"/>
<text class="t" transform="translate(265.5 459.7) scale(0.46 1)" font-size="14" text-anchor="middle">4</text>
<rect class="b" x="319" y="283.5" width="12.75" height="42"/>
<path class="w" d="M297 273.5L301 273.5"/>
<rect class="w" x="301" y="271" width="6.5" height="5.5"/>
<path class="w" d="M307.5 273.5L313 273.5"/>
<path class="w" d="M318 270.1L313 273.6L318 277.1Z"/>
<path class="w" d="M313 270.1L313 277.1"/>
<path class="w" d="M316.8 270.4L311.8 266.7"/>
<path class="f" d="M311.8 266.7L315.54 266.86L313.04 270.23Z"/>
<path class="w" d="M318 273.5L323 273.5L323 293.5"/>
<path class="w" d="M323 293.5L307.5 293.5L307.5 302.2A1.8 1.8 0 0 1 307.5 305.8L307.5 312.7A1.8 1.8 0 0 1 307.5 316.3L307.5 445.6"/>
<path class="w" d="M297 273.5L297 410.5"/>
<path class="w" d="M321.4 304L302 304L302 386.5"/>
<path class="w" d="M297 314.5L321.4 314.5"/>
<circle class="d" cx="297" cy="314.5" r="1.75"/>
<circle class="d" cx="302" cy="386.5" r="1.75"/>
<circle class="d" cx="297" cy="410.5" r="1.75"/>
<rect class="z" x="300" y="340" width="4" height="6"/>
<rect class="z" x="295" y="357" width="4" height="6"/>
<circle class="d" cx="322.7" cy="293.5" r="1.5"/>
<circle class="o" cx="322.7" cy="304" r="1.35"/>
<circle class="o n" cx="322.7" cy="314.5" r="1.35"/>
<text class="t s" transform="translate(324.5 296.5) scale(0.5 1)" font-size="11.4" text-anchor="start">04</text>
<text class="t s" transform="translate(324.1 307.2) scale(0.6 1)" font-size="10.8" text-anchor="start">P</text>
<text class="t s" transform="translate(324.5 318.3) scale(0.55 1)" font-size="10.8" text-anchor="start">N</text>
<circle class="o" cx="307.5" cy="447" r="1.5"/>
<text class="t" transform="translate(307.5 459.7) scale(0.46 1)" font-size="14" text-anchor="middle">5</text>
<rect class="b" x="360.5" y="283.5" width="12.75" height="42"/>
<path class="w" d="M338.5 273.5L342.5 273.5"/>
<rect class="w" x="342.5" y="271" width="6.5" height="5.5"/>
<path class="w" d="M349 273.5L354.5 273.5"/>
<path class="w" d="M359.5 270.1L354.5 273.6L359.5 277.1Z"/>
<path class="w" d="M354.5 270.1L354.5 277.1"/>
<path class="w" d="M358.3 270.4L353.3 266.7"/>
<path class="f" d="M353.3 266.7L357.04 266.86L354.54 270.23Z"/>
<path class="w" d="M359.5 273.5L364.5 273.5L364.5 293.5"/>
<path class="w" d="M364.5 293.5L349 293.5L349 302.2A1.8 1.8 0 0 1 349 305.8L349 312.7A1.8 1.8 0 0 1 349 316.3L349 445.6"/>
<path class="w" d="M338.5 273.5L338.5 410.5"/>
<path class="w" d="M362.9 304L343.5 304L343.5 386.5"/>
<path class="w" d="M338.5 314.5L362.9 314.5"/>
<circle class="d" cx="338.5" cy="314.5" r="1.75"/>
<circle class="d" cx="343.5" cy="386.5" r="1.75"/>
<circle class="d" cx="338.5" cy="410.5" r="1.75"/>
<rect class="z" x="341.5" y="340" width="4" height="6"/>
<rect class="z" x="336.5" y="357" width="4" height="6"/>
<circle class="d" cx="364.2" cy="293.5" r="1.5"/>
<circle class="o" cx="364.2" cy="304" r="1.35"/>
<circle class="o n" cx="364.2" cy="314.5" r="1.35"/>
<text class="t s" transform="translate(366 296.5) scale(0.5 1)" font-size="11.4" text-anchor="start">05</text>
<text class="t s" transform="translate(365.6 307.2) scale(0.6 1)" font-size="10.8" text-anchor="start">P</text>
<text class="t s" transform="translate(366 318.3) scale(0.55 1)" font-size="10.8" text-anchor="start">N</text>
<circle class="o" cx="349" cy="447" r="1.5"/>
<text class="t" transform="translate(349 459.7) scale(0.46 1)" font-size="14" text-anchor="middle">6</text>
<rect class="b" x="402" y="283.5" width="12.75" height="42"/>
<path class="w" d="M380 273.5L384 273.5"/>
<rect class="w" x="384" y="271" width="6.5" height="5.5"/>
<path class="w" d="M390.5 273.5L396 273.5"/>
<path class="w" d="M401 270.1L396 273.6L401 277.1Z"/>
<path class="w" d="M396 270.1L396 277.1"/>
<path class="w" d="M399.8 270.4L394.8 266.7"/>
<path class="f" d="M394.8 266.7L398.54 266.86L396.04 270.23Z"/>
<path class="w" d="M401 273.5L406 273.5L406 293.5"/>
<path class="w" d="M406 293.5L390.5 293.5L390.5 302.2A1.8 1.8 0 0 1 390.5 305.8L390.5 312.7A1.8 1.8 0 0 1 390.5 316.3L390.5 445.6"/>
<path class="w" d="M380 273.5L380 410.5"/>
<path class="w" d="M404.4 304L385 304L385 386.5"/>
<path class="w" d="M380 314.5L404.4 314.5"/>
<circle class="d" cx="380" cy="314.5" r="1.75"/>
<circle class="d" cx="385" cy="386.5" r="1.75"/>
<circle class="d" cx="380" cy="410.5" r="1.75"/>
<rect class="z" x="383" y="340" width="4" height="6"/>
<rect class="z" x="378" y="357" width="4" height="6"/>
<circle class="d" cx="405.7" cy="293.5" r="1.5"/>
<circle class="o" cx="405.7" cy="304" r="1.35"/>
<circle class="o n" cx="405.7" cy="314.5" r="1.35"/>
<text class="t s" transform="translate(407.5 296.5) scale(0.5 1)" font-size="11.4" text-anchor="start">06</text>
<text class="t s" transform="translate(407.1 307.2) scale(0.6 1)" font-size="10.8" text-anchor="start">P</text>
<text class="t s" transform="translate(407.5 318.3) scale(0.55 1)" font-size="10.8" text-anchor="start">N</text>
<circle class="o" cx="390.5" cy="447" r="1.5"/>
<text class="t" transform="translate(390.5 459.7) scale(0.46 1)" font-size="14" text-anchor="middle">7</text>
<rect class="b" x="443.5" y="283.5" width="12.75" height="42"/>
<path class="w" d="M421.5 273.5L425.5 273.5"/>
<rect class="w" x="425.5" y="271" width="6.5" height="5.5"/>
<path class="w" d="M432 273.5L437.5 273.5"/>
<path class="w" d="M442.5 270.1L437.5 273.6L442.5 277.1Z"/>
<path class="w" d="M437.5 270.1L437.5 277.1"/>
<path class="w" d="M441.3 270.4L436.3 266.7"/>
<path class="f" d="M436.3 266.7L440.04 266.86L437.54 270.23Z"/>
<path class="w" d="M442.5 273.5L447.5 273.5L447.5 293.5"/>
<path class="w" d="M447.5 293.5L432 293.5L432 302.2A1.8 1.8 0 0 1 432 305.8L432 312.7A1.8 1.8 0 0 1 432 316.3L432 445.6"/>
<path class="w" d="M421.5 273.5L421.5 410.5"/>
<path class="w" d="M445.9 304L426.5 304L426.5 386.5"/>
<path class="w" d="M421.5 314.5L445.9 314.5"/>
<circle class="d" cx="421.5" cy="314.5" r="1.75"/>
<circle class="d" cx="426.5" cy="386.5" r="1.75"/>
<circle class="d" cx="421.5" cy="410.5" r="1.75"/>
<rect class="z" x="424.5" y="340" width="4" height="6"/>
<rect class="z" x="419.5" y="357" width="4" height="6"/>
<circle class="d" cx="447.2" cy="293.5" r="1.5"/>
<circle class="o" cx="447.2" cy="304" r="1.35"/>
<circle class="o n" cx="447.2" cy="314.5" r="1.35"/>
<text class="t s" transform="translate(449 296.5) scale(0.5 1)" font-size="11.4" text-anchor="start">07</text>
<text class="t s" transform="translate(448.6 307.2) scale(0.6 1)" font-size="10.8" text-anchor="start">P</text>
<text class="t s" transform="translate(449 318.3) scale(0.55 1)" font-size="10.8" text-anchor="start">N</text>
<circle class="o" cx="432" cy="447" r="1.5"/>
<text class="t" transform="translate(432 459.7) scale(0.46 1)" font-size="14" text-anchor="middle">8</text>
<rect class="b" x="485" y="283.5" width="12.75" height="42"/>
<path class="w" d="M463 273.5L467 273.5"/>
<rect class="w" x="467" y="271" width="6.5" height="5.5"/>
<path class="w" d="M473.5 273.5L479 273.5"/>
<path class="w" d="M484 270.1L479 273.6L484 277.1Z"/>
<path class="w" d="M479 270.1L479 277.1"/>
<path class="w" d="M482.8 270.4L477.8 266.7"/>
<path class="f" d="M477.8 266.7L481.54 266.86L479.04 270.23Z"/>
<path class="w" d="M484 273.5L489 273.5L489 293.5"/>
<path class="w" d="M489 293.5L473.5 293.5L473.5 302.2A1.8 1.8 0 0 1 473.5 305.8L473.5 312.7A1.8 1.8 0 0 1 473.5 316.3L473.5 445.6"/>
<path class="w" d="M463 273.5L463 410.5"/>
<path class="w" d="M487.4 304L468 304L468 386.5"/>
<path class="w" d="M463 314.5L487.4 314.5"/>
<circle class="d" cx="463" cy="314.5" r="1.75"/>
<circle class="d" cx="468" cy="386.5" r="1.75"/>
<circle class="d" cx="463" cy="410.5" r="1.75"/>
<rect class="z" x="466" y="340" width="4" height="6"/>
<rect class="z" x="461" y="357" width="4" height="6"/>
<circle class="d" cx="488.7" cy="293.5" r="1.5"/>
<circle class="o" cx="488.7" cy="304" r="1.35"/>
<circle class="o n" cx="488.7" cy="314.5" r="1.35"/>
<text class="t s" transform="translate(490.5 296.5) scale(0.5 1)" font-size="11.4" text-anchor="start">08</text>
<text class="t s" transform="translate(490.1 307.2) scale(0.6 1)" font-size="10.8" text-anchor="start">P</text>
<text class="t s" transform="translate(490.5 318.3) scale(0.55 1)" font-size="10.8" text-anchor="start">N</text>
<circle class="o" cx="473.5" cy="447" r="1.5"/>
<text class="t" transform="translate(475.1 459.7) scale(0.46 1)" font-size="14" text-anchor="middle">11</text>
<rect class="b" x="526.5" y="283.5" width="12.75" height="42"/>
<path class="w" d="M504.5 273.5L508.5 273.5"/>
<rect class="w" x="508.5" y="271" width="6.5" height="5.5"/>
<path class="w" d="M515 273.5L520.5 273.5"/>
<path class="w" d="M525.5 270.1L520.5 273.6L525.5 277.1Z"/>
<path class="w" d="M520.5 270.1L520.5 277.1"/>
<path class="w" d="M524.3 270.4L519.3 266.7"/>
<path class="f" d="M519.3 266.7L523.04 266.86L520.54 270.23Z"/>
<path class="w" d="M525.5 273.5L530.5 273.5L530.5 293.5"/>
<path class="w" d="M530.5 293.5L515 293.5L515 302.2A1.8 1.8 0 0 1 515 305.8L515 312.7A1.8 1.8 0 0 1 515 316.3L515 445.6"/>
<path class="w" d="M504.5 273.5L504.5 410.5"/>
<path class="w" d="M528.9 304L509.5 304L509.5 386.5"/>
<path class="w" d="M504.5 314.5L528.9 314.5"/>
<circle class="d" cx="504.5" cy="314.5" r="1.75"/>
<circle class="d" cx="509.5" cy="386.5" r="1.75"/>
<circle class="d" cx="504.5" cy="410.5" r="1.75"/>
<rect class="z" x="507.5" y="340" width="4" height="6"/>
<rect class="z" x="502.5" y="357" width="4" height="6"/>
<circle class="d" cx="530.2" cy="293.5" r="1.5"/>
<circle class="o" cx="530.2" cy="304" r="1.35"/>
<circle class="o n" cx="530.2" cy="314.5" r="1.35"/>
<text class="t s" transform="translate(532 296.5) scale(0.5 1)" font-size="11.4" text-anchor="start">09</text>
<text class="t s" transform="translate(531.6 307.2) scale(0.6 1)" font-size="10.8" text-anchor="start">P</text>
<text class="t s" transform="translate(532 318.3) scale(0.55 1)" font-size="10.8" text-anchor="start">N</text>
<circle class="o" cx="515" cy="447" r="1.5"/>
<text class="t" transform="translate(515.3 459.7) scale(0.46 1)" font-size="14" text-anchor="middle">12</text>
<rect class="b" x="568" y="283.5" width="12.75" height="42"/>
<path class="w" d="M546 273.5L550 273.5"/>
<rect class="w" x="550" y="271" width="6.5" height="5.5"/>
<path class="w" d="M556.5 273.5L562 273.5"/>
<path class="w" d="M567 270.1L562 273.6L567 277.1Z"/>
<path class="w" d="M562 270.1L562 277.1"/>
<path class="w" d="M565.8 270.4L560.8 266.7"/>
<path class="f" d="M560.8 266.7L564.54 266.86L562.04 270.23Z"/>
<path class="w" d="M567 273.5L572 273.5L572 293.5"/>
<path class="w" d="M572 293.5L556.5 293.5L556.5 302.2A1.8 1.8 0 0 1 556.5 305.8L556.5 312.7A1.8 1.8 0 0 1 556.5 316.3L556.5 445.6"/>
<path class="w" d="M546 273.5L546 410.5"/>
<path class="w" d="M570.4 304L551 304L551 386.5"/>
<path class="w" d="M546 314.5L570.4 314.5"/>
<circle class="d" cx="546" cy="314.5" r="1.75"/>
<circle class="d" cx="551" cy="386.5" r="1.75"/>
<circle class="d" cx="546" cy="410.5" r="1.75"/>
<rect class="z" x="549" y="340" width="4" height="6"/>
<rect class="z" x="544" y="357" width="4" height="6"/>
<circle class="d" cx="571.7" cy="293.5" r="1.5"/>
<circle class="o" cx="571.7" cy="304" r="1.35"/>
<circle class="o n" cx="571.7" cy="314.5" r="1.35"/>
<text class="t s" transform="translate(573.5 296.5) scale(0.5 1)" font-size="11.4" text-anchor="start">0A</text>
<text class="t s" transform="translate(573.1 307.2) scale(0.6 1)" font-size="10.8" text-anchor="start">P</text>
<text class="t s" transform="translate(573.5 318.3) scale(0.55 1)" font-size="10.8" text-anchor="start">N</text>
<circle class="o" cx="556.5" cy="447" r="1.5"/>
<text class="t" transform="translate(556.8 459.7) scale(0.46 1)" font-size="14" text-anchor="middle">13</text>
<rect class="b" x="609.5" y="283.5" width="12.75" height="42"/>
<path class="w" d="M587.5 273.5L591.5 273.5"/>
<rect class="w" x="591.5" y="271" width="6.5" height="5.5"/>
<path class="w" d="M598 273.5L603.5 273.5"/>
<path class="w" d="M608.5 270.1L603.5 273.6L608.5 277.1Z"/>
<path class="w" d="M603.5 270.1L603.5 277.1"/>
<path class="w" d="M607.3 270.4L602.3 266.7"/>
<path class="f" d="M602.3 266.7L606.04 266.86L603.54 270.23Z"/>
<path class="w" d="M608.5 273.5L613.5 273.5L613.5 293.5"/>
<path class="w" d="M613.5 293.5L598 293.5L598 302.2A1.8 1.8 0 0 1 598 305.8L598 312.7A1.8 1.8 0 0 1 598 316.3L598 445.6"/>
<path class="w" d="M587.5 273.5L587.5 410.5"/>
<path class="w" d="M611.9 304L592.5 304L592.5 386.5"/>
<path class="w" d="M587.5 314.5L611.9 314.5"/>
<circle class="d" cx="587.5" cy="314.5" r="1.75"/>
<circle class="d" cx="592.5" cy="386.5" r="1.75"/>
<circle class="d" cx="587.5" cy="410.5" r="1.75"/>
<rect class="z" x="590.5" y="340" width="4" height="6"/>
<rect class="z" x="585.5" y="357" width="4" height="6"/>
<circle class="d" cx="613.2" cy="293.5" r="1.5"/>
<circle class="o" cx="613.2" cy="304" r="1.35"/>
<circle class="o n" cx="613.2" cy="314.5" r="1.35"/>
<text class="t s" transform="translate(615 296.5) scale(0.5 1)" font-size="11.4" text-anchor="start">0B</text>
<text class="t s" transform="translate(614.6 307.2) scale(0.6 1)" font-size="10.8" text-anchor="start">P</text>
<text class="t s" transform="translate(615 318.3) scale(0.55 1)" font-size="10.8" text-anchor="start">N</text>
<circle class="o" cx="598" cy="447" r="1.5"/>
<text class="t" transform="translate(598.3 459.7) scale(0.46 1)" font-size="14" text-anchor="middle">14</text>
<rect class="b" x="651" y="283.5" width="12.75" height="42"/>
<path class="w" d="M629 273.5L633 273.5"/>
<rect class="w" x="633" y="271" width="6.5" height="5.5"/>
<path class="w" d="M639.5 273.5L645 273.5"/>
<path class="w" d="M650 270.1L645 273.6L650 277.1Z"/>
<path class="w" d="M645 270.1L645 277.1"/>
<path class="w" d="M648.8 270.4L643.8 266.7"/>
<path class="f" d="M643.8 266.7L647.54 266.86L645.04 270.23Z"/>
<path class="w" d="M650 273.5L655 273.5L655 293.5"/>
<path class="w" d="M655 293.5L639.5 293.5L639.5 302.2A1.8 1.8 0 0 1 639.5 305.8L639.5 312.7A1.8 1.8 0 0 1 639.5 316.3L639.5 445.6"/>
<path class="w" d="M629 273.5L629 410.5"/>
<path class="w" d="M653.4 304L634 304L634 386.5"/>
<path class="w" d="M629 314.5L653.4 314.5"/>
<circle class="d" cx="629" cy="314.5" r="1.75"/>
<circle class="d" cx="634" cy="386.5" r="1.75"/>
<circle class="d" cx="629" cy="410.5" r="1.75"/>
<rect class="z" x="632" y="340" width="4" height="6"/>
<rect class="z" x="627" y="357" width="4" height="6"/>
<circle class="d" cx="654.7" cy="293.5" r="1.5"/>
<circle class="o" cx="654.7" cy="304" r="1.35"/>
<circle class="o n" cx="654.7" cy="314.5" r="1.35"/>
<text class="t s" transform="translate(656.5 296.5) scale(0.5 1)" font-size="11.4" text-anchor="start">0C</text>
<text class="t s" transform="translate(656.1 307.2) scale(0.6 1)" font-size="10.8" text-anchor="start">P</text>
<text class="t s" transform="translate(656.5 318.3) scale(0.55 1)" font-size="10.8" text-anchor="start">N</text>
<circle class="o" cx="639.5" cy="447" r="1.5"/>
<text class="t" transform="translate(639.8 459.7) scale(0.46 1)" font-size="14" text-anchor="middle">15</text>
<rect class="b" x="693" y="283.5" width="12.75" height="42"/>
<path class="w" d="M671 273.5L675 273.5"/>
<rect class="w" x="675" y="271" width="6.5" height="5.5"/>
<path class="w" d="M681.5 273.5L687 273.5"/>
<path class="w" d="M692 270.1L687 273.6L692 277.1Z"/>
<path class="w" d="M687 270.1L687 277.1"/>
<path class="w" d="M690.8 270.4L685.8 266.7"/>
<path class="f" d="M685.8 266.7L689.54 266.86L687.04 270.23Z"/>
<path class="w" d="M692 273.5L697 273.5L697 293.5"/>
<path class="w" d="M697 293.5L681.5 293.5L681.5 302.2A1.8 1.8 0 0 1 681.5 305.8L681.5 312.7A1.8 1.8 0 0 1 681.5 316.3L681.5 445.6"/>
<path class="w" d="M671 273.5L671 410.5"/>
<path class="w" d="M695.4 304L676 304L676 386.5"/>
<path class="w" d="M671 314.5L695.4 314.5"/>
<circle class="d" cx="671" cy="314.5" r="1.75"/>
<circle class="d" cx="676" cy="386.5" r="1.75"/>
<circle class="d" cx="671" cy="410.5" r="1.75"/>
<rect class="z" x="674" y="340" width="4" height="6"/>
<rect class="z" x="669" y="357" width="4" height="6"/>
<circle class="d" cx="696.7" cy="293.5" r="1.5"/>
<circle class="o" cx="696.7" cy="304" r="1.35"/>
<circle class="o n" cx="696.7" cy="314.5" r="1.35"/>
<text class="t s" transform="translate(698.5 296.5) scale(0.5 1)" font-size="11.4" text-anchor="start">0D</text>
<text class="t s" transform="translate(698.1 307.2) scale(0.6 1)" font-size="10.8" text-anchor="start">P</text>
<text class="t s" transform="translate(698.5 318.3) scale(0.55 1)" font-size="10.8" text-anchor="start">N</text>
<circle class="o" cx="681.5" cy="447" r="1.5"/>
<text class="t" transform="translate(681.8 459.7) scale(0.46 1)" font-size="14" text-anchor="middle">16</text>
<rect class="b" x="734.5" y="283.5" width="12.75" height="42"/>
<path class="w" d="M712.5 273.5L716.5 273.5"/>
<rect class="w" x="716.5" y="271" width="6.5" height="5.5"/>
<path class="w" d="M723 273.5L728.5 273.5"/>
<path class="w" d="M733.5 270.1L728.5 273.6L733.5 277.1Z"/>
<path class="w" d="M728.5 270.1L728.5 277.1"/>
<path class="w" d="M732.3 270.4L727.3 266.7"/>
<path class="f" d="M727.3 266.7L731.04 266.86L728.54 270.23Z"/>
<path class="w" d="M733.5 273.5L738.5 273.5L738.5 293.5"/>
<path class="w" d="M738.5 293.5L723 293.5L723 302.2A1.8 1.8 0 0 1 723 305.8L723 312.7A1.8 1.8 0 0 1 723 316.3L723 445.6"/>
<path class="w" d="M712.5 273.5L712.5 410.5"/>
<path class="w" d="M736.9 304L717.5 304L717.5 386.5"/>
<path class="w" d="M712.5 314.5L736.9 314.5"/>
<circle class="d" cx="712.5" cy="314.5" r="1.75"/>
<circle class="d" cx="717.5" cy="386.5" r="1.75"/>
<circle class="d" cx="712.5" cy="410.5" r="1.75"/>
<rect class="z" x="715.5" y="340" width="4" height="6"/>
<rect class="z" x="710.5" y="357" width="4" height="6"/>
<circle class="d" cx="738.2" cy="293.5" r="1.5"/>
<circle class="o" cx="738.2" cy="304" r="1.35"/>
<circle class="o n" cx="738.2" cy="314.5" r="1.35"/>
<text class="t s" transform="translate(740 296.5) scale(0.5 1)" font-size="11.4" text-anchor="start">0E</text>
<text class="t s" transform="translate(739.6 307.2) scale(0.6 1)" font-size="10.8" text-anchor="start">P</text>
<text class="t s" transform="translate(740 318.3) scale(0.55 1)" font-size="10.8" text-anchor="start">N</text>
<circle class="o" cx="723" cy="447" r="1.5"/>
<text class="t" transform="translate(723.3 459.7) scale(0.46 1)" font-size="14" text-anchor="middle">17</text>
<rect class="b" x="776" y="283.5" width="12.75" height="42"/>
<path class="w" d="M754 273.5L758 273.5"/>
<rect class="w" x="758" y="271" width="6.5" height="5.5"/>
<path class="w" d="M764.5 273.5L770 273.5"/>
<path class="w" d="M775 270.1L770 273.6L775 277.1Z"/>
<path class="w" d="M770 270.1L770 277.1"/>
<path class="w" d="M773.8 270.4L768.8 266.7"/>
<path class="f" d="M768.8 266.7L772.54 266.86L770.04 270.23Z"/>
<path class="w" d="M775 273.5L780 273.5L780 293.5"/>
<path class="w" d="M780 293.5L764.5 293.5L764.5 302.2A1.8 1.8 0 0 1 764.5 305.8L764.5 312.7A1.8 1.8 0 0 1 764.5 316.3L764.5 445.6"/>
<path class="w" d="M754 273.5L754 410.5"/>
<path class="w" d="M778.4 304L759 304L759 386.5"/>
<path class="w" d="M754 314.5L778.4 314.5"/>
<circle class="d" cx="754" cy="314.5" r="1.75"/>
<rect class="z" x="757" y="340" width="4" height="6"/>
<rect class="z" x="752" y="357" width="4" height="6"/>
<circle class="d" cx="779.7" cy="293.5" r="1.5"/>
<circle class="o" cx="779.7" cy="304" r="1.35"/>
<circle class="o n" cx="779.7" cy="314.5" r="1.35"/>
<text class="t s" transform="translate(781.5 296.5) scale(0.5 1)" font-size="11.4" text-anchor="start">0F</text>
<text class="t s" transform="translate(781.1 307.2) scale(0.6 1)" font-size="10.8" text-anchor="start">P</text>
<text class="t s" transform="translate(781.5 318.3) scale(0.55 1)" font-size="10.8" text-anchor="start">N</text>
<circle class="o" cx="764.5" cy="447" r="1.5"/>
<text class="t" transform="translate(764.8 459.7) scale(0.46 1)" font-size="14" text-anchor="middle">18</text>
<path class="w" d="M58 386.5L759.5 386.5"/>
<path class="w" d="M92.5 410.5L754.5 410.5"/>
<path class="w" d="M58.5 386.5L58.5 445.6"/>
<path class="w" d="M58.5 410.5L68.5 410.5"/>
<rect class="w" x="68.5" y="407.5" width="6.5" height="6"/>
<path class="w" d="M75 410.5L78.5 410.5"/>
<path class="w" d="M78.5 407L83.5 410.5L78.5 414Z"/>
<path class="w" d="M83.5 407L83.5 414"/>
<path class="w" d="M80.3 407.1L83.8 403.3"/>
<path class="f" d="M83.8 403.3L83.09 406.73L80.44 404.29Z"/>
<path class="w" d="M83.5 410.5L92.5 410.5"/>
<circle class="d" cx="58.5" cy="410.5" r="1.75"/>
<circle class="d" cx="92.5" cy="410.5" r="1.75"/>
<circle class="d" cx="58.5" cy="425" r="1.75"/>
<circle class="d" cx="92.5" cy="425" r="1.75"/>
<path class="w" d="M58.5 425L70.5 425L70.5 445.6"/>
<path class="w" d="M92.5 410.5L92.5 445.6"/>
<path class="w" d="M92.5 425L104 425L104 445.6"/>
<circle class="o" cx="58.5" cy="447" r="1.5"/>
<circle class="o" cx="70.5" cy="447" r="1.5"/>
<circle class="o" cx="92.5" cy="447" r="1.5"/>
<circle class="o" cx="104" cy="447" r="1.5"/>
<rect class="b" x="53" y="449.5" width="23.75" height="13"/>
<rect class="b" x="86.5" y="449.5" width="23.5" height="13"/>
<text class="t g" transform="translate(58.5 459.7) scale(0.5 1)" font-size="14" text-anchor="middle">9</text>
<text class="t" transform="translate(71.5 459.7) scale(0.5 1)" font-size="14" text-anchor="middle">10</text>
<text class="t g" transform="translate(93.3 459.7) scale(0.5 1)" font-size="14" text-anchor="middle">19</text>
<text class="t" transform="translate(104.9 459.7) scale(0.5 1)" font-size="14" text-anchor="middle">20</text>
</g>
<path class="f" d="M43.6 228.6L48 236.9L39.7 236.9Z"/>
<path class="f" d="M57.2 490.3L61.7 499.8L52.8 499.8Z"/>
<text class="t" transform="translate(34.5 252.8) scale(0.735 1)" font-size="17.4" text-anchor="start">24V</text>
<text class="t" transform="translate(89.5 252.8) scale(0.735 1)" font-size="17.4" text-anchor="start">0V</text>
<text class="t" transform="translate(47.2 515.9) scale(0.735 1)" font-size="17.4" text-anchor="start">24V</text>
<text class="t" transform="translate(86.7 515.9) scale(0.735 1)" font-size="17.4" text-anchor="start">0V</text>
<text class="c" y="15.8" font-size="11.7"><tspan x="384.6">负载侧：弹簧端子</tspan></text>
<text class="c" y="224" font-size="11.7"><tspan class="m" x="380.3" font-size="12.4" textLength="17.55" lengthAdjust="spacingAndGlyphs">PLC</tspan><tspan x="397.85">侧：</tspan><tspan class="m" x="421.25" font-size="12.4" textLength="11.7" lengthAdjust="spacingAndGlyphs">20</tspan><tspan x="432.95">位</tspan><tspan class="m" x="444.65" font-size="12.4" textLength="17.55" lengthAdjust="spacingAndGlyphs">MIL</tspan><tspan x="462.2">底座</tspan></text>
<text class="c m" x="405.8" y="244.8" font-size="14.5" textLength="51.6" lengthAdjust="spacingAndGlyphs">ST1F75N</text>
<text class="c" y="261.9" font-size="11.7"><tspan x="381.8">负载侧：弹簧端子</tspan></text>
<text class="c" y="480" font-size="11.7"><tspan class="m" x="379.7" font-size="12.4" textLength="17.55" lengthAdjust="spacingAndGlyphs">PLC</tspan><tspan x="397.25">侧：</tspan><tspan class="m" x="420.65" font-size="12.4" textLength="11.7" lengthAdjust="spacingAndGlyphs">20</tspan><tspan x="432.35">位</tspan><tspan class="m" x="444.05" font-size="12.4" textLength="17.55" lengthAdjust="spacingAndGlyphs">MIL</tspan><tspan x="461.6">底座</tspan></text>
<text class="c m" x="402.1" y="506.8" font-size="14.5" textLength="51.6" lengthAdjust="spacingAndGlyphs">ST1F75P</text>
</svg>
<svg class="badge" width="42" height="32" viewBox="0 492 42 32">
<defs><clipPath id="bl"><path d="M0 499.6C2 498 4.5 497.3 7 497.4L14.5 497.6C20 498.2 25.5 500.6 28.6 503.6C30.4 505.4 31 507.4 31 510L31 514.6C31 517.4 29.6 519.6 27.6 521.2L26.4 522L7.2 522C4.4 521.4 2 520 0 518.2Z"/></clipPath></defs>
<rect x="0" y="492" width="41.8" height="32" fill="#f7941d"/>
<g clip-path="url(#bl)">
<rect x="0" y="496" width="7.2" height="27" fill="#dc891f"/>
<rect x="7" y="496" width="12.2" height="27" fill="#c4781e"/>
<rect x="19" y="496" width="13" height="27" fill="#ca7b1e"/>
</g>
<ellipse cx="9.6" cy="497.5" rx="4.8" ry=".5" fill="#fff" opacity=".75"/>
<path d="M27.8 503.4L29.4 504.9" stroke="#3a2a10" stroke-width=".7" fill="none"/>
</svg>
</body>
</html>
